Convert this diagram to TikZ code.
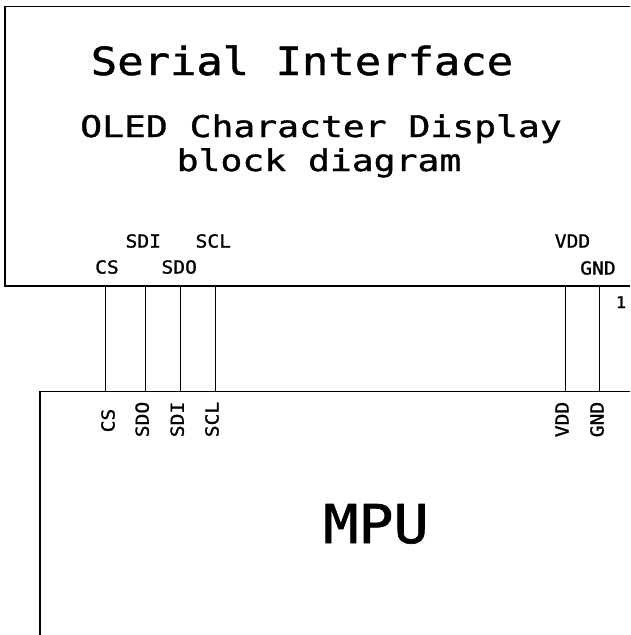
\documentclass[tikz,border=0pt]{standalone}
\usepackage{fontspec}
\newfontfamily\pinfont[FakeStretch=1.09, FakeBold=1.2]{DejaVu Sans Mono}
\newfontfamily\titlefont[FakeStretch=1.13, FakeBold=1.2]{DejaVu Sans Mono}
\newfontfamily\subfont[FakeStretch=1.22, FakeBold=1.2]{DejaVu Sans Mono}
\usepackage{tikz}
\usetikzlibrary{positioning}

\begin{document}
\begin{tikzpicture}
[x=1pt, y=-1pt,
    every node/.style={inner sep=0pt, outer sep=0pt},
    box/.style={draw=black, line width=1.8pt},
    wire/.style={draw=black, line width=1.5pt},
    pinname/.style={font=\pinfont\fontsize{18}{18}\selectfont},
    mpupin/.style={pinname, rotate=90},
    bigtitle/.style={anchor=base, font=\titlefont\fontsize{38.8}{38.8}\selectfont},
    subtitle/.style={anchor=base, font=\subfont\fontsize{29.8}{29.8}\selectfont}
    ]
    \useasboundingbox (0,0) rectangle (630,635);

    % display module (open to the right)
    \draw[box] (630,6.5) -- (5,6.5) -- (5,286) -- (630,286);
    \node[bigtitle] (title) at (302,75) {Serial Interface};
    \node[subtitle] (oled) at (321,137) {OLED Character Display};
    \node[subtitle] (blockdiag) at (319,171) {block diagram};

    \node[pinname] (lcd-cs)  at (107,267)   {CS};
    \node[pinname] (lcd-sdi) at (143.3,241) {SDI};
    \node[pinname] (lcd-sdo) at (179.2,267) {SDO};
    \node[pinname] (lcd-scl) at (213.3,241) {SCL};
    \node[pinname] (lcd-vdd) at (572.5,241) {VDD};
    \node[pinname] (lcd-gnd) at (598,268)   {GND};
    \node[anchor=base, font=\pinfont\fontsize{16}{16}\selectfont] (pin1) at (621,308) {1};

    % host side
    \draw[box] (630,391.5) -- (40,391.5) -- (40,635);
    \node[anchor=base, font=\pinfont\fontsize{53.5}{53.5}\selectfont] (mpu) at (376,543) {MPU};

    \node[mpupin] (mpu-cs)  at (108,420.5)   {CS};
    \node[mpupin] (mpu-sdo) at (142.2,419.5) {SDO};
    \node[mpupin] (mpu-sdi) at (177.2,419.5) {SDI};
    \node[mpupin] (mpu-scl) at (212,419.5)   {SCL};
    \node[mpupin] (mpu-vdd) at (562,419.5)   {VDD};
    \node[mpupin] (mpu-gnd) at (597,419.5)   {GND};

    % wires between the two blocks
    \foreach \n/\x in {cs/105.5, sdi/145.5, sdo/180.5, scl/215.5, vdd/565.5, gnd/599.5} {
        \coordinate (\n-top) at (\x,286);
        \coordinate (\n-bot) at (\x,391.5);
        \draw[wire] (\n-top) -- (\n-bot);
    }
\end{tikzpicture}
\end{document}
